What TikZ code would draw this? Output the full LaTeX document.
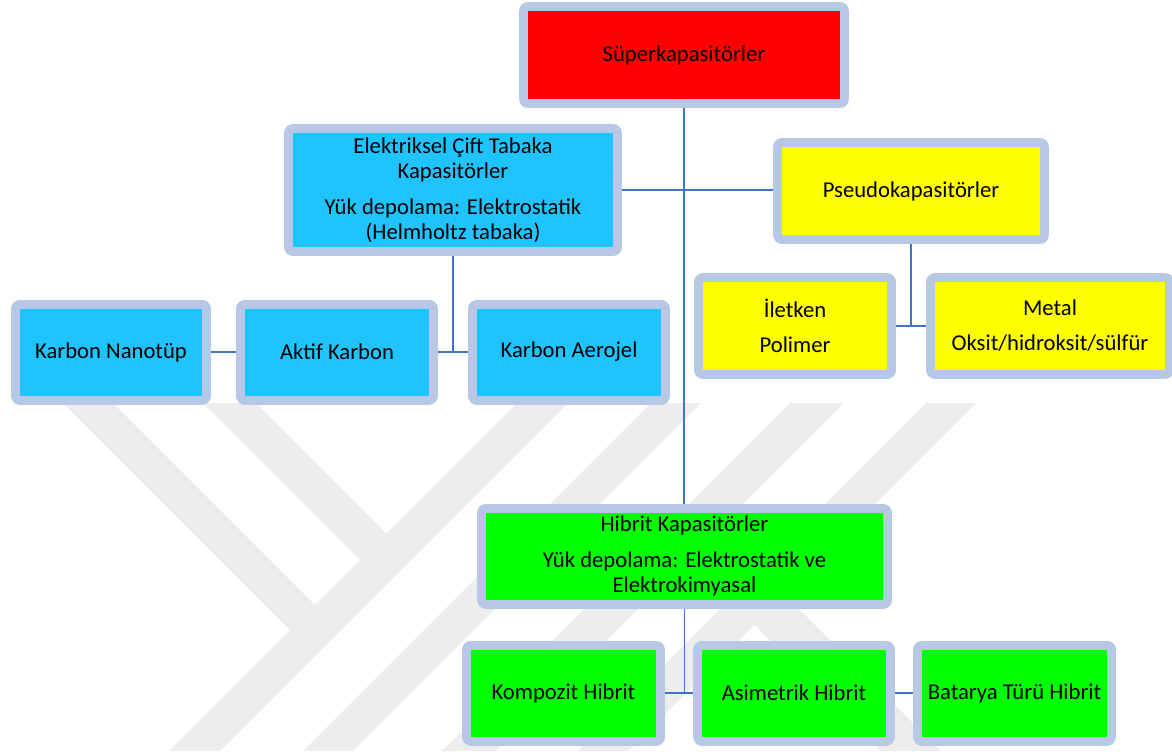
\documentclass[tikz,border=0pt]{standalone}
\usepackage{fontspec}
\setmainfont{Carlito}
\usetikzlibrary{backgrounds}
\definecolor{halo}{RGB}{183,199,230}
\definecolor{connc}{RGB}{68,114,196}
\definecolor{wm}{RGB}{237,237,237}
\definecolor{cyanfill}{RGB}{31,196,255}
\definecolor{yel}{RGB}{255,255,0}
\definecolor{grn}{RGB}{0,255,0}
\definecolor{rd}{RGB}{255,0,0}
\begin{document}
\begin{tikzpicture}[x=0.75pt,y=-0.75pt,
  box/.style={rectangle, inner sep=0pt, align=center,
    font=\fontsize{17}{18.75}\selectfont, text=black,
    preaction={draw=halo, line width=13.5pt, line join=round}},
  connector/.style={draw=connc, line width=1.3pt},
  wmark/.style={fill=wm, draw=none}]
\useasboundingbox (0,0) rectangle (1172,751);

% boxes
\node[box, fill=rd, minimum width=234pt, minimum height=66pt] (super) at (684,55) {Süperkapasitörler};
\node[box, fill=cyanfill, minimum width=240pt, minimum height=85.5pt] (elec) at (453,190)
  {Elektriksel Çift Tabaka\\Kapasitörler\\[8.25pt]Yük depolama: Elektrostatik\\(Helmholtz tabaka)};
\node[box, fill=yel, minimum width=193.5pt, minimum height=66pt] (pseudo) at (911,191) {Pseudokapasitörler};
\node[box, fill=yel, minimum width=138pt, minimum height=66pt] (iletken) at (795,326) {İletken\\[7.5pt]Polimer};
\node[box, fill=yel, minimum width=172.5pt, minimum height=66pt] (metal) at (1050,326) {Metal\\[7.5pt]Oksit/hidroksit/sülfür};
\node[box, fill=cyanfill, minimum width=136.5pt, minimum height=65.25pt] (nanotup) at (111,352) {Karbon Nanotüp};
\node[box, fill=cyanfill, minimum width=138pt, minimum height=65.25pt] (aktif) at (337,352) {Aktif Karbon};
\node[box, fill=cyanfill, minimum width=138pt, minimum height=65.25pt] (aerojel) at (569,352) {Karbon Aerojel};
\node[box, fill=grn, minimum width=297.75pt, minimum height=65.25pt] (hibrit) at (684.5,556)
  {Hibrit Kapasitörler\\[8.25pt]Yük depolama: Elektrostatik ve\\Elektrokimyasal};
\node[box, fill=grn, minimum width=138.75pt, minimum height=65.25pt] (kompozit) at (563.5,693) {Kompozit Hibrit};
\node[box, fill=grn, minimum width=138pt, minimum height=65.25pt] (asimetrik) at (794,693) {Asimetrik Hibrit};
\node[box, fill=grn, minimum width=138.75pt, minimum height=65.25pt] (batarya) at (1014.5,693) {Batarya Türü Hibrit};

\begin{pgfonlayer}{background}
  % watermark
  \fill[wmark] (517,403) -- (568,403) -- (220,751) -- (169,751) -- cycle;
  \fill[wmark] (651,403) -- (701,403) -- (353,751) -- (303,751) -- cycle;
  \fill[wmark] (790,403) -- (844,403) -- (496,751) -- (442,751) -- cycle;
  \fill[wmark] (926,403) -- (976,403) -- (628,751) -- (578,751) -- cycle;
  \fill[wmark] (63,403) -- (113,403) -- (325,615) -- (300,640) -- cycle;
  \fill[wmark] (203,403) -- (256,403) -- (396,543) -- (370,570) -- cycle;
  \fill[wmark] (745,615) -- (775,585) -- (941,751) -- (881,751) -- cycle;
  % connectors
  \draw[connector] (super.south) -- (super.south |- hibrit.north);
  \draw[connector] (elec.east) -- (elec.east -| pseudo.west);
  \draw[connector] (elec.south) -- (elec.south |- aktif.east);
  \draw[connector] (aktif.east) -- (aerojel.west);
  \draw[connector] (nanotup.east) -- (aktif.west);
  \draw[connector] (pseudo.south) -- (pseudo.south |- iletken.east);
  \draw[connector] (iletken.east) -- (metal.west);
  \draw[connector] (hibrit.south) -- (hibrit.south |- kompozit.east);
  \draw[connector] (kompozit.east) -- (asimetrik.west);
  \draw[connector] (asimetrik.east) -- (batarya.west);
\end{pgfonlayer}
\end{tikzpicture}
\end{document}
